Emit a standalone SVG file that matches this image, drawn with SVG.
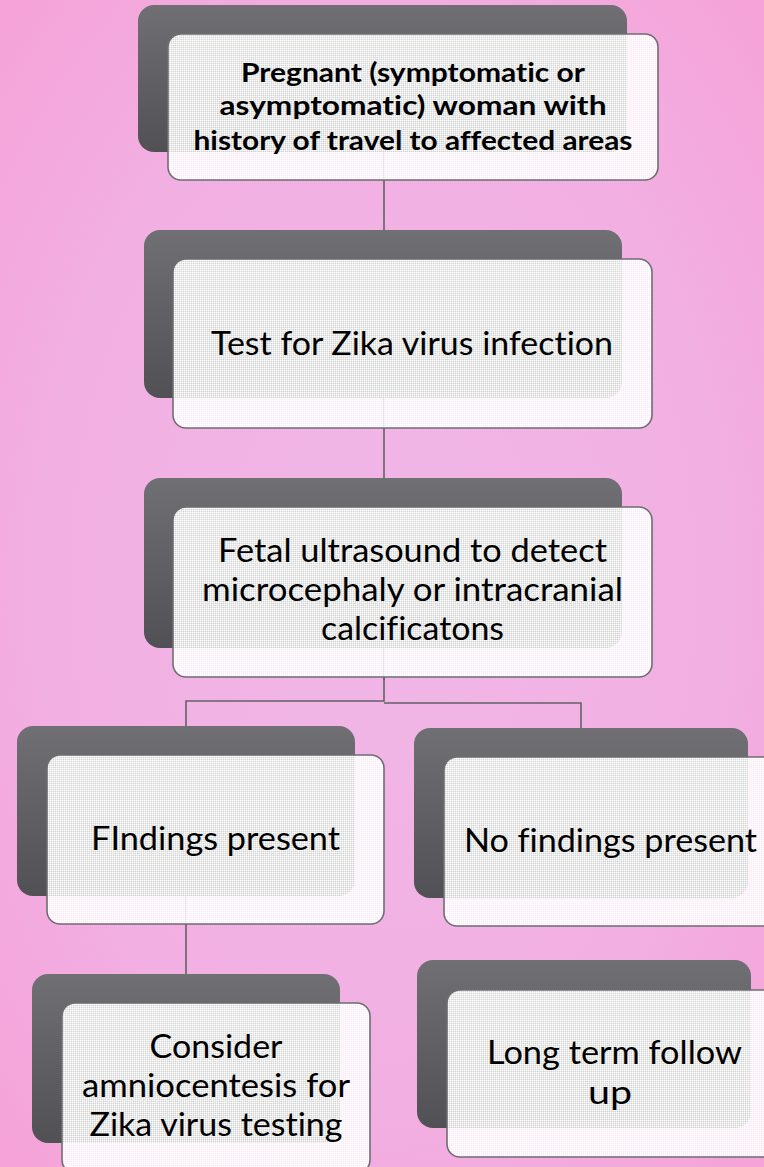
<svg xmlns="http://www.w3.org/2000/svg" width="764" height="1167" viewBox="0 0 764 1167">
<defs>
<radialGradient id="bg" cx="0.5" cy="0.5" r="0.75">
<stop offset="0" stop-color="#f0b7e7"/>
<stop offset="0.6" stop-color="#f2afe2"/>
<stop offset="1" stop-color="#f6a0d6"/>
</radialGradient>
<linearGradient id="back" x1="0" y1="0" x2="0" y2="1">
<stop offset="0" stop-color="#6f6f74"/>
<stop offset="1" stop-color="#505055"/>
</linearGradient>
<pattern id="dither" width="2" height="2" patternUnits="userSpaceOnUse">
<rect x="0" y="0" width="1" height="1" fill="#ffffff"/>
<rect x="1" y="0" width="1" height="1" fill="#ffffff" fill-opacity="0.88"/>
<rect x="0" y="1" width="1" height="1" fill="#ffffff" fill-opacity="0.88"/>
<rect x="1" y="1" width="1" height="1" fill="#ffffff" fill-opacity="0.74"/>
</pattern>
<style>
.back{fill:url(#back);}
.front{fill:url(#dither);stroke:#6e6e72;stroke-width:1.6;}
.conn{fill:none;stroke:#626268;stroke-width:1.6;}
.t,.b{font-family:Lato,"Open Sans","Liberation Sans",sans-serif;fill:#000;text-anchor:middle;font-variant-ligatures:none;font-feature-settings:"liga" 0,"clig" 0,"calt" 0,"dlig" 0;}
.t{font-size:32px;}
.b{font-size:26.5px;font-weight:bold;}
</style>
</defs>
<rect x="0" y="0" width="764" height="1167" fill="url(#bg)"/>
<g id="connectors">
<path class="conn" d="M384 100 V680"/>
<path class="conn" d="M384 677 V701 H186 V1003"/>
<path class="conn" d="M384 703 H581 V757"/>
</g>
<g id="node1">
<rect class="back" x="138" y="5" width="489" height="147" rx="16"/>
<rect class="front" x="168" y="34" width="490" height="146" rx="13"/>
<text class="b" x="413" y="82" textLength="344" lengthAdjust="spacingAndGlyphs">Pregnant (symptomatic or</text>
<text class="b" x="413" y="115" textLength="387" lengthAdjust="spacingAndGlyphs">asymptomatic) woman with</text>
<text class="b" x="413" y="150" textLength="439" lengthAdjust="spacingAndGlyphs">history of travel to affected areas</text>
</g>
<g id="node2">
<rect class="back" x="144" y="230" width="478" height="168" rx="16"/>
<rect class="front" x="173" y="259" width="479" height="169" rx="13"/>
<text class="t" x="412" y="355" textLength="402" lengthAdjust="spacingAndGlyphs">Test for Zika virus infection</text>
</g>
<g id="node3">
<rect class="back" x="144" y="478" width="478" height="170" rx="16"/>
<rect class="front" x="173" y="507" width="479" height="170" rx="13"/>
<text class="t" x="412.5" y="562" textLength="389" lengthAdjust="spacingAndGlyphs">Fetal ultrasound to detect</text>
<text class="t" x="412.5" y="601" textLength="421" lengthAdjust="spacingAndGlyphs">microcephaly or intracranial</text>
<text class="t" x="412.5" y="640" textLength="183" lengthAdjust="spacingAndGlyphs">calcificatons</text>
</g>
<g id="node4">
<rect class="back" x="17" y="726" width="338" height="170" rx="16"/>
<rect class="front" x="47" y="755" width="337" height="169" rx="13"/>
<text class="t" x="215.5" y="850" textLength="249" lengthAdjust="spacingAndGlyphs">FIndings present</text>
</g>
<g id="node5">
<rect class="back" x="414" y="728" width="334" height="170" rx="16"/>
<rect class="front" x="444" y="757" width="334" height="169" rx="13"/>
<text class="t" x="610.5" y="852" textLength="293" lengthAdjust="spacingAndGlyphs">No findings present</text>
</g>
<g id="node6">
<rect class="back" x="32" y="974" width="308" height="169" rx="16"/>
<rect class="front" x="62" y="1003" width="308" height="170" rx="13"/>
<text class="t" x="216" y="1058" textLength="133" lengthAdjust="spacingAndGlyphs">Consider</text>
<text class="t" x="216" y="1097" textLength="268" lengthAdjust="spacingAndGlyphs">amniocentesis for</text>
<text class="t" x="216" y="1136" textLength="253" lengthAdjust="spacingAndGlyphs">Zika virus testing</text>
</g>
<g id="node7">
<rect class="back" x="417" y="960" width="334" height="168" rx="16"/>
<rect class="front" x="447" y="990" width="334" height="167" rx="13"/>
<text class="t" x="614.5" y="1064" textLength="255" lengthAdjust="spacingAndGlyphs">Long term follow</text>
<text class="t" x="610" y="1104" textLength="44" lengthAdjust="spacingAndGlyphs">up</text>
</g>
</svg>
